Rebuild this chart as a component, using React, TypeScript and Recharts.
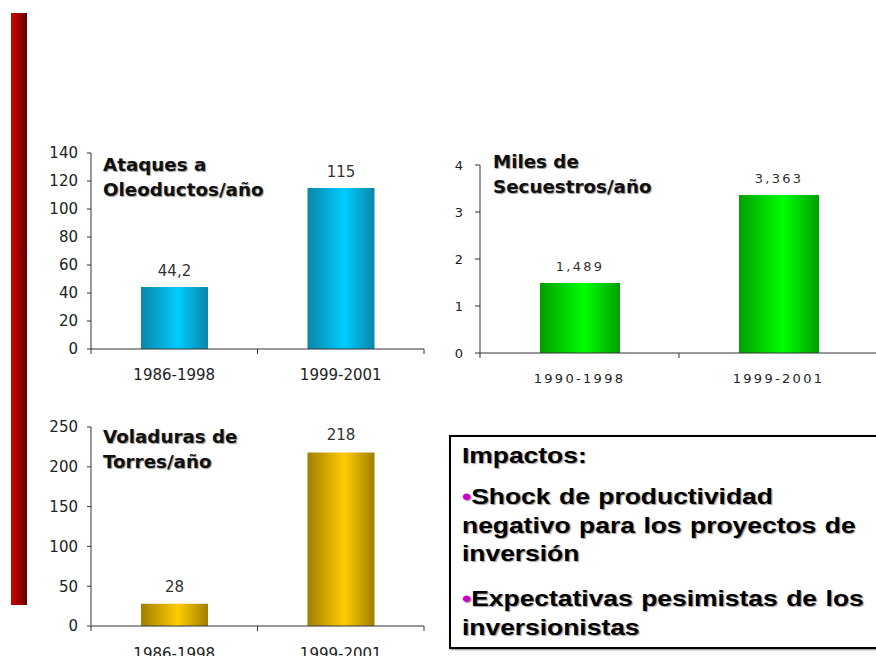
import { BarChart, Bar, XAxis, YAxis, LabelList } from "recharts";

const oleoCats = ["1986-1998", "1999-2001"];
const oleoValues = [44.2, 115];
const oleoTicks = [0, 20, 40, 60, 80, 100, 120, 140];

const secCats = ["1990-1998", "1999-2001"];
const secValues = [1.489, 3.363];
const secTicks = [0, 1, 2, 3, 4];

const torCats = ["1986-1998", "1999-2001"];
const torValues = [28, 218];
const torTicks = [0, 50, 100, 150, 200, 250];

const oleoData = oleoCats.map((c, i) => ({ cat: c, v: oleoValues[i] }));
const secData = secCats.map((c, i) => ({ cat: c, v: secValues[i] }));
const torData = torCats.map((c, i) => ({ cat: c, v: torValues[i] }));

const comma = (v: any) => String(v).replace(".", ",");

const tickFont = "'DejaVu Sans', Verdana, sans-serif";

// category label centred, small tick marks at the band edges
function CatTick(props: any) {
  const { x, y, payload, index, dy, fontSize, spacing } = props;
  const half = payload.offset ?? 0;
  return (
    <g>
      <line x1={x - half} x2={x - half} y1={y - 5} y2={y} stroke="#333" />
      {index === 1 && <line x1={x + half} x2={x + half} y1={y - 5} y2={y} stroke="#333" />}
      <text
        x={x}
        y={y}
        dy={dy}
        textAnchor="middle"
        fill="#222"
        fontSize={fontSize}
        fontFamily={tickFont}
        letterSpacing={spacing}
      >
        {payload.value}
      </text>
    </g>
  );
}

function Grad({ id, edge, mid }: { id: string; edge: string; mid: string }) {
  return (
    <linearGradient id={id} x1="0" y1="0" x2="1" y2="0">
      <stop offset="0%" stopColor={edge} />
      <stop offset="55%" stopColor={mid} />
      <stop offset="100%" stopColor={edge} />
    </linearGradient>
  );
}

const titleStyle: React.CSSProperties = {
  position: "absolute",
  fontFamily: "'DejaVu Sans', Verdana, sans-serif",
  fontWeight: "bold",
  fontSize: 18.3,
  lineHeight: "25px",
  color: "#111",
  textShadow: "1px 1px 1px #999",
  whiteSpace: "nowrap",
};

const boxText: React.CSSProperties = {
  margin: 0,
  fontFamily: "'Liberation Sans', Arial, sans-serif",
  fontWeight: "bold",
  fontSize: 22,
  lineHeight: "28.5px",
  wordSpacing: 1,
  color: "#000",
  textShadow: "1px 1px 1px #999",
  whiteSpace: "nowrap",
  transform: "scaleX(1.2)",
  transformOrigin: "left",
};

const dot = <span style={{ color: "#cc00cc" }}>•</span>;

export default function App() {
  return (
    <div
      style={{
        position: "absolute",
        left: 0,
        top: 0,
        width: 876,
        height: 656,
        overflow: "hidden",
        background: "#fff",
      }}
    >
      {/* red side bar */}
      <div
        style={{
          position: "absolute",
          left: 11,
          top: 13,
          width: 16,
          height: 592,
          background: "linear-gradient(to right, #d40000, #5e0000)",
        }}
      />

      <div style={{ position: "absolute", left: 0, top: 140 }}>
        <BarChart width={440} height={250} data={oleoData} margin={{ top: 13, right: 16, bottom: 11, left: 0 }}>
          <defs>
            <Grad id="gCyan" edge="#0a86a8" mid="#00ccff" />
          </defs>
          <XAxis
            dataKey="cat"
            stroke="#333"
            tickLine={false}
            tickSize={5}
            tickMargin={0}
            height={30}
            tick={<CatTick dy={26} fontSize={15} spacing={0} />}
          />
          <YAxis
            width={91}
            domain={[0, 140]}
            ticks={oleoTicks}
            stroke="#333"
            tickSize={4}
            tickMargin={9}
            tick={{ fill: "#222", fontSize: 15, fontFamily: tickFont }}
          />
          <Bar dataKey="v" fill="url(#gCyan)" barSize={67} isAnimationActive={false}>
            <LabelList dataKey="v" position="top" offset={11} formatter={comma} fill="#333" fontSize={15} fontFamily={tickFont} />
          </Bar>
        </BarChart>
      </div>

      <div style={{ position: "absolute", left: 420, top: 140 }}>
        <BarChart width={470} height={250} data={secData} margin={{ top: 25, right: 12, bottom: 7, left: 0 }}>
          <defs>
            <Grad id="gGreen" edge="#00a000" mid="#00ff00" />
          </defs>
          <XAxis
            dataKey="cat"
            stroke="#333"
            tickLine={false}
            tickSize={5}
            tickMargin={0}
            height={30}
            tick={<CatTick dy={25} fontSize={13} spacing={2.3} />}
          />
          <YAxis
            width={60}
            domain={[0, 4]}
            ticks={secTicks}
            stroke="#333"
            tickSize={5}
            tickMargin={12}
            tick={{ fill: "#222", fontSize: 13, fontFamily: tickFont }}
          />
          <Bar dataKey="v" fill="url(#gGreen)" barSize={80} isAnimationActive={false}>
            <LabelList
              dataKey="v"
              position="top"
              offset={12}
              formatter={comma}
              fill="#333"
              fontSize={13}
              letterSpacing={2.3}
              fontFamily={tickFont}
            />
          </Bar>
        </BarChart>
      </div>

      <div style={{ position: "absolute", left: 0, top: 410 }}>
        <BarChart width={440} height={246} data={torData} margin={{ top: 17, right: 16, bottom: 0, left: 0 }}>
          <defs>
            <Grad id="gGold" edge="#a07e00" mid="#ffcc00" />
          </defs>
          <XAxis
            dataKey="cat"
            stroke="#333"
            tickLine={false}
            tickSize={5}
            tickMargin={0}
            height={30}
            tick={<CatTick dy={28} fontSize={15} spacing={0} />}
          />
          <YAxis
            width={91}
            domain={[0, 250]}
            ticks={torTicks}
            stroke="#333"
            tickSize={4}
            tickMargin={9}
            tick={{ fill: "#222", fontSize: 15, fontFamily: tickFont }}
          />
          <Bar dataKey="v" fill="url(#gGold)" barSize={67} isAnimationActive={false}>
            <LabelList dataKey="v" position="top" offset={12} formatter={comma} fill="#333" fontSize={15} fontFamily={tickFont} />
          </Bar>
        </BarChart>
      </div>

      <div style={{ ...titleStyle, left: 103, top: 152 }}>
        Ataques a<br />Oleoductos/año
      </div>
      <div style={{ ...titleStyle, left: 493, top: 149 }}>
        Miles de<br />Secuestros/año
      </div>
      <div style={{ ...titleStyle, left: 103, top: 424 }}>
        Voladuras de<br />Torres/año
      </div>

      <div
        style={{
          position: "absolute",
          left: 449,
          top: 435,
          width: 440,
          height: 214,
          border: "2px solid #000",
          boxShadow: "1px 1px 2px #888",
          background: "#fff",
          boxSizing: "border-box",
          paddingLeft: 11,
          paddingTop: 5,
        }}
      >
        <p style={boxText}>Impactos:</p>
        <p style={{ ...boxText, marginTop: 12.5 }}>
          {dot}Shock de productividad
          <br />
          negativo para los proyectos de
          <br />
          inversión
        </p>
        <p style={{ ...boxText, marginTop: 16.5 }}>
          {dot}Expectativas pesimistas de los
          <br />
          inversionistas
        </p>
      </div>
    </div>
  );
}
